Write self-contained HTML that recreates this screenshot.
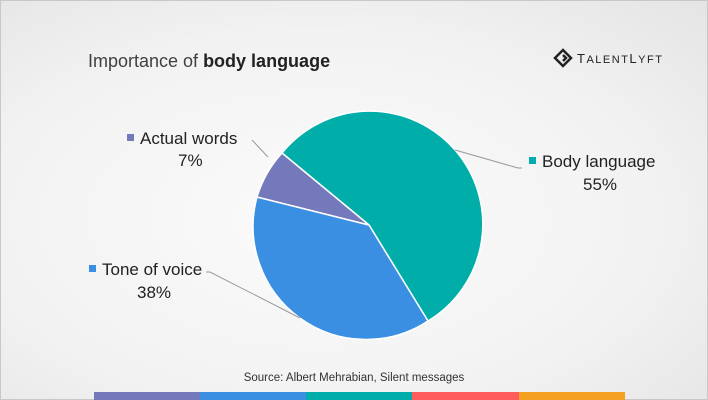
<!DOCTYPE html>
<html><head><style>
body{margin:0;width:708px;height:400px;overflow:hidden;font-family:"Liberation Sans",sans-serif}
.bg{position:absolute;left:0;top:0;width:706px;height:398px;border:1px solid #c8c8c8;background:radial-gradient(ellipse at 45% 55%,#fbfbfb 0%,#f2f2f2 60%,#e4e4e4 100%)}
</style></head><body>
<div class="bg"></div>
<svg width="708" height="400" style="position:absolute;left:0;top:0">
<text x="88" y="67" font-size="18" fill="#404040">Importance of <tspan font-weight="bold" fill="#222">body language</tspan></text>
<g transform="translate(555,58)" fill="none" stroke="#222" stroke-width="2.5">
<path d="M8 -8 L16 0 L8 8 L0 0 Z"/><path d="M8 -3 L11 0 L8 3" />
</g>
<text x="577" y="63" font-size="13" fill="#222" letter-spacing="1.5">T<tspan font-size="11">ALENT</tspan>L<tspan font-size="11">YFT</tspan></text>
<g stroke="#fff" stroke-width="1.5">
<path d="M369 225 L282 153 A113 113 0 1 1 428 321 Z" fill="#00ada9"/>
<path d="M369 225 L428 321 A113 113 0 0 1 257 197 Z" fill="#3a8fe3"/>
<path d="M369 225 L257 197 A113 113 0 0 1 282 153 Z" fill="#7479bb"/>
</g>
<g stroke="#999" stroke-width="1" fill="none">
<polyline points="455,150 518,168 522,168"/>
<polyline points="300,318 210,272 206,272"/>
<polyline points="268,157 252,140"/>
</g>
<rect x="529" y="157" width="7" height="7" fill="#00ada9"/>
<text x="542" y="167" font-size="17" fill="#222">Body language</text>
<text x="583" y="190" font-size="17" fill="#222">55%</text>
<rect x="89" y="265" width="7" height="7" fill="#3a8fe3"/>
<text x="102" y="275" font-size="17" fill="#222">Tone of voice</text>
<text x="137" y="298" font-size="17" fill="#222">38%</text>
<rect x="127" y="134" width="7" height="7" fill="#7479bb"/>
<text x="140" y="144" font-size="17" fill="#222">Actual words</text>
<text x="178" y="166" font-size="17" fill="#222">7%</text>
<text x="354" y="381" font-size="11.5" fill="#333" text-anchor="middle">Source: Albert Mehrabian, Silent messages</text>
<rect x="94" y="392" width="106" height="8" fill="#7479bb"/>
<rect x="200" y="392" width="106" height="8" fill="#3a8fe3"/>
<rect x="306" y="392" width="106" height="8" fill="#00ada9"/>
<rect x="412" y="392" width="107" height="8" fill="#ff5c5c"/>
<rect x="519" y="392" width="106" height="8" fill="#f5a021"/>
</svg>
</body></html>
